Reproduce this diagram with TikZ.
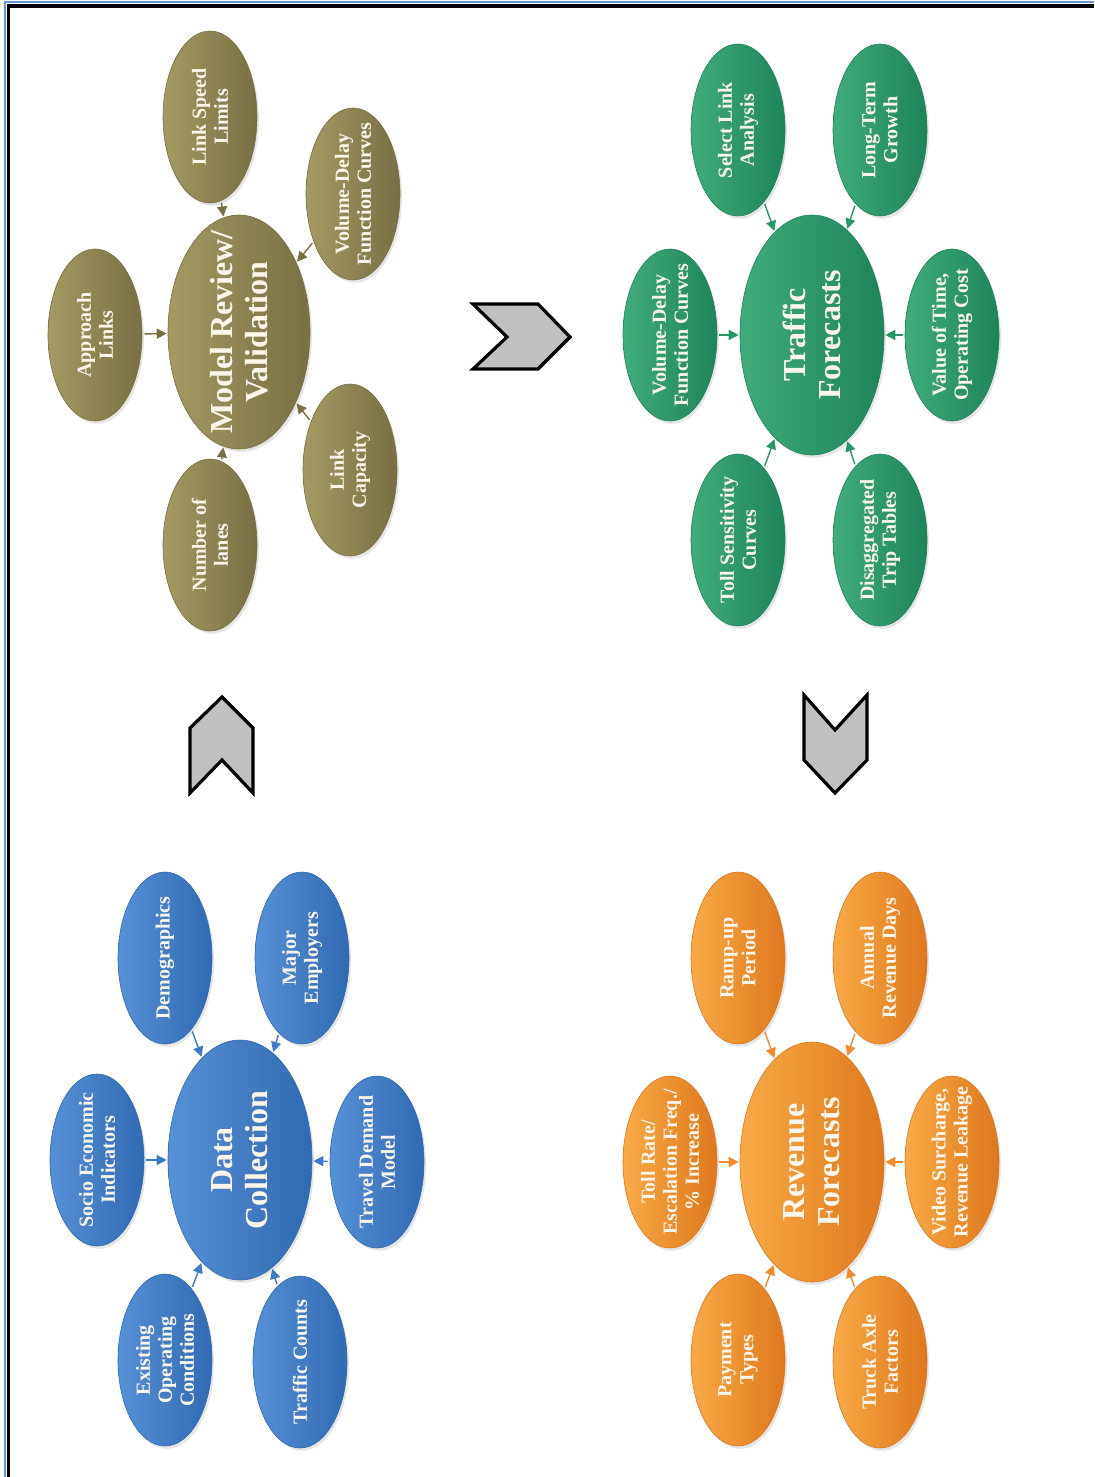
\documentclass[tikz,border=0pt]{standalone}
\usepackage{fontspec}
\setmainfont{Liberation Serif}
\usetikzlibrary{shapes.geometric,shadows,arrows.meta}

\definecolor{olbase}{RGB}{141,131,82}
\definecolor{ollight}{RGB}{164,154,98}
\definecolor{oldark}{RGB}{120,111,67}
\definecolor{grbase}{RGB}{38,152,104}
\definecolor{grlight}{RGB}{64,172,124}
\definecolor{grdark}{RGB}{30,132,90}
\definecolor{blbase}{RGB}{58,122,200}
\definecolor{bllight}{RGB}{86,144,214}
\definecolor{bldark}{RGB}{48,106,178}
\definecolor{orbase}{RGB}{242,140,40}
\definecolor{orlight}{RGB}{248,170,70}
\definecolor{ordark}{RGB}{222,120,30}
\definecolor{txt}{RGB}{250,246,236}
\definecolor{chevgray}{RGB}{192,192,192}
\definecolor{frameblue}{RGB}{102,150,214}

\tikzset{
  bub/.style={ellipse, rotate=90, minimum width=86pt, minimum height=47pt,
    inner xsep=-9pt, inner ysep=0pt, align=center, text=txt,
    font=\fontsize{10}{11}\selectfont\bfseries,
    drop shadow={opacity=0.2, shadow xshift=1pt, shadow yshift=-1.4pt}},
  hub/.style={bub, minimum width=120pt, minimum height=72pt, inner xsep=-14pt,
    font=\fontsize{16}{17.5}\selectfont\bfseries},
  olfill/.style={left color=ollight, middle color=olbase, right color=oldark, draw=oldark, line width=0.3pt},
  grfill/.style={left color=grlight, middle color=grbase, right color=grdark, draw=grdark, line width=0.3pt},
  blfill/.style={left color=bllight, middle color=blbase, right color=bldark, draw=bldark, line width=0.3pt},
  orfill/.style={left color=orlight, middle color=orbase, right color=ordark, draw=ordark, line width=0.3pt},
  link/.style={-{Triangle[length=5pt,width=5pt]}, line width=0.7pt,
    shorten <=1pt, shorten >=0.5pt},
  chev/.style={fill=chevgray, draw=black, line width=1.6pt, line join=miter}
}

\begin{document}
\begin{tikzpicture}[x=0.5pt,y=-0.5pt]
\useasboundingbox (0,0) rectangle (1094,1477);
\fill[white] (0,0) rectangle (1094,1477);

% frame along the top and left edges
\draw[frameblue, line width=1pt] (5,1477) -- (5,2) -- (1094,2);
\draw[black, line width=1.6pt] (8.5,1477) -- (8.5,6) -- (1094,6);

% ---------- Model Review / Validation ----------
\node[hub, olfill, minimum width=117pt, minimum height=71pt] (mrv) at (239,332) {Model Review/\\Validation};
\node[bub, olfill] (lsl) at (210,117) {Link Speed\\Limits};
\node[bub, olfill] (vdf1) at (353,194) {Volume-Delay\\Function Curves};
\node[bub, olfill] (apl) at (95,335) {Approach\\Links};
\node[bub, olfill] (nol) at (210,545) {Number of\\lanes};
\node[bub, olfill] (lcap) at (350,470) {Link\\Capacity};
\foreach \s in {lsl,vdf1,apl,nol,lcap}
  \draw[link, oldark] (\s) -- (mrv);

% ---------- Traffic Forecasts ----------
\node[hub, grfill] (tf) at (812,335) {Traffic\\Forecasts};
\node[bub, grfill] (sla) at (738,130) {Select Link\\Analysis};
\node[bub, grfill] (ltg) at (880,130) {Long-Term\\Growth};
\node[bub, grfill] (vdf2) at (670,335) {Volume-Delay\\Function Curves};
\node[bub, grfill] (vot) at (952,335) {Value of Time,\\Operating Cost};
\node[bub, grfill] (tsc) at (738,540) {Toll Sensitivity\\Curves};
\node[bub, grfill] (dtt) at (880,540) {Disaggregated\\Trip Tables};
\foreach \s in {sla,ltg,vdf2,vot,tsc,dtt}
  \draw[link, grbase] (\s) -- (tf);

% ---------- Data Collection ----------
\node[hub, blfill] (dc) at (240,1160) {Data\\Collection};
\node[bub, blfill] (sei) at (97,1160) {Socio Economic\\Indicators};
\node[bub, blfill] (dem) at (165,958) {Demographics};
\node[bub, blfill] (mje) at (302,958) {Major\\Employers};
\node[bub, blfill] (tdm) at (377,1162) {Travel Demand\\Model};
\node[bub, blfill] (eoc) at (165,1360) {Existing\\Operating\\Conditions};
\node[bub, blfill] (tco) at (300,1362) {Traffic Counts};
\foreach \s in {sei,dem,mje,tdm,eoc,tco}
  \draw[link, blbase] (\s) -- (dc);

% ---------- Revenue Forecasts ----------
\node[hub, orfill] (rf) at (812,1162) {Revenue\\Forecasts};
\node[bub, orfill] (trt) at (670,1162) {Toll Rate/\\Escalation Freq./\\\% Increase};
\node[bub, orfill] (vsr) at (952,1162) {Video Surcharge,\\Revenue Leakage};
\node[bub, orfill] (rup) at (738,958) {Ramp-up\\Period};
\node[bub, orfill] (ard) at (880,958) {Annual\\Revenue Days};
\node[bub, orfill] (pty) at (738,1360) {Payment\\Types};
\node[bub, orfill] (taf) at (880,1362) {Truck Axle\\Factors};
\foreach \s in {trt,vsr,rup,ard,pty,taf}
  \draw[link, orbase] (\s) -- (rf);

% ---------- process chevrons ----------
\draw[chev] (190,793) -- (190,728) -- (222,697) -- (253,728) -- (253,793) -- (222,760) -- cycle;
\draw[chev] (473,304) -- (538,304) -- (570,337) -- (538,369) -- (473,369) -- (507,337) -- cycle;
\draw[chev] (804,695) -- (835,730) -- (867,695) -- (867,760) -- (835,793) -- (804,760) -- cycle;
\end{tikzpicture}
\end{document}
